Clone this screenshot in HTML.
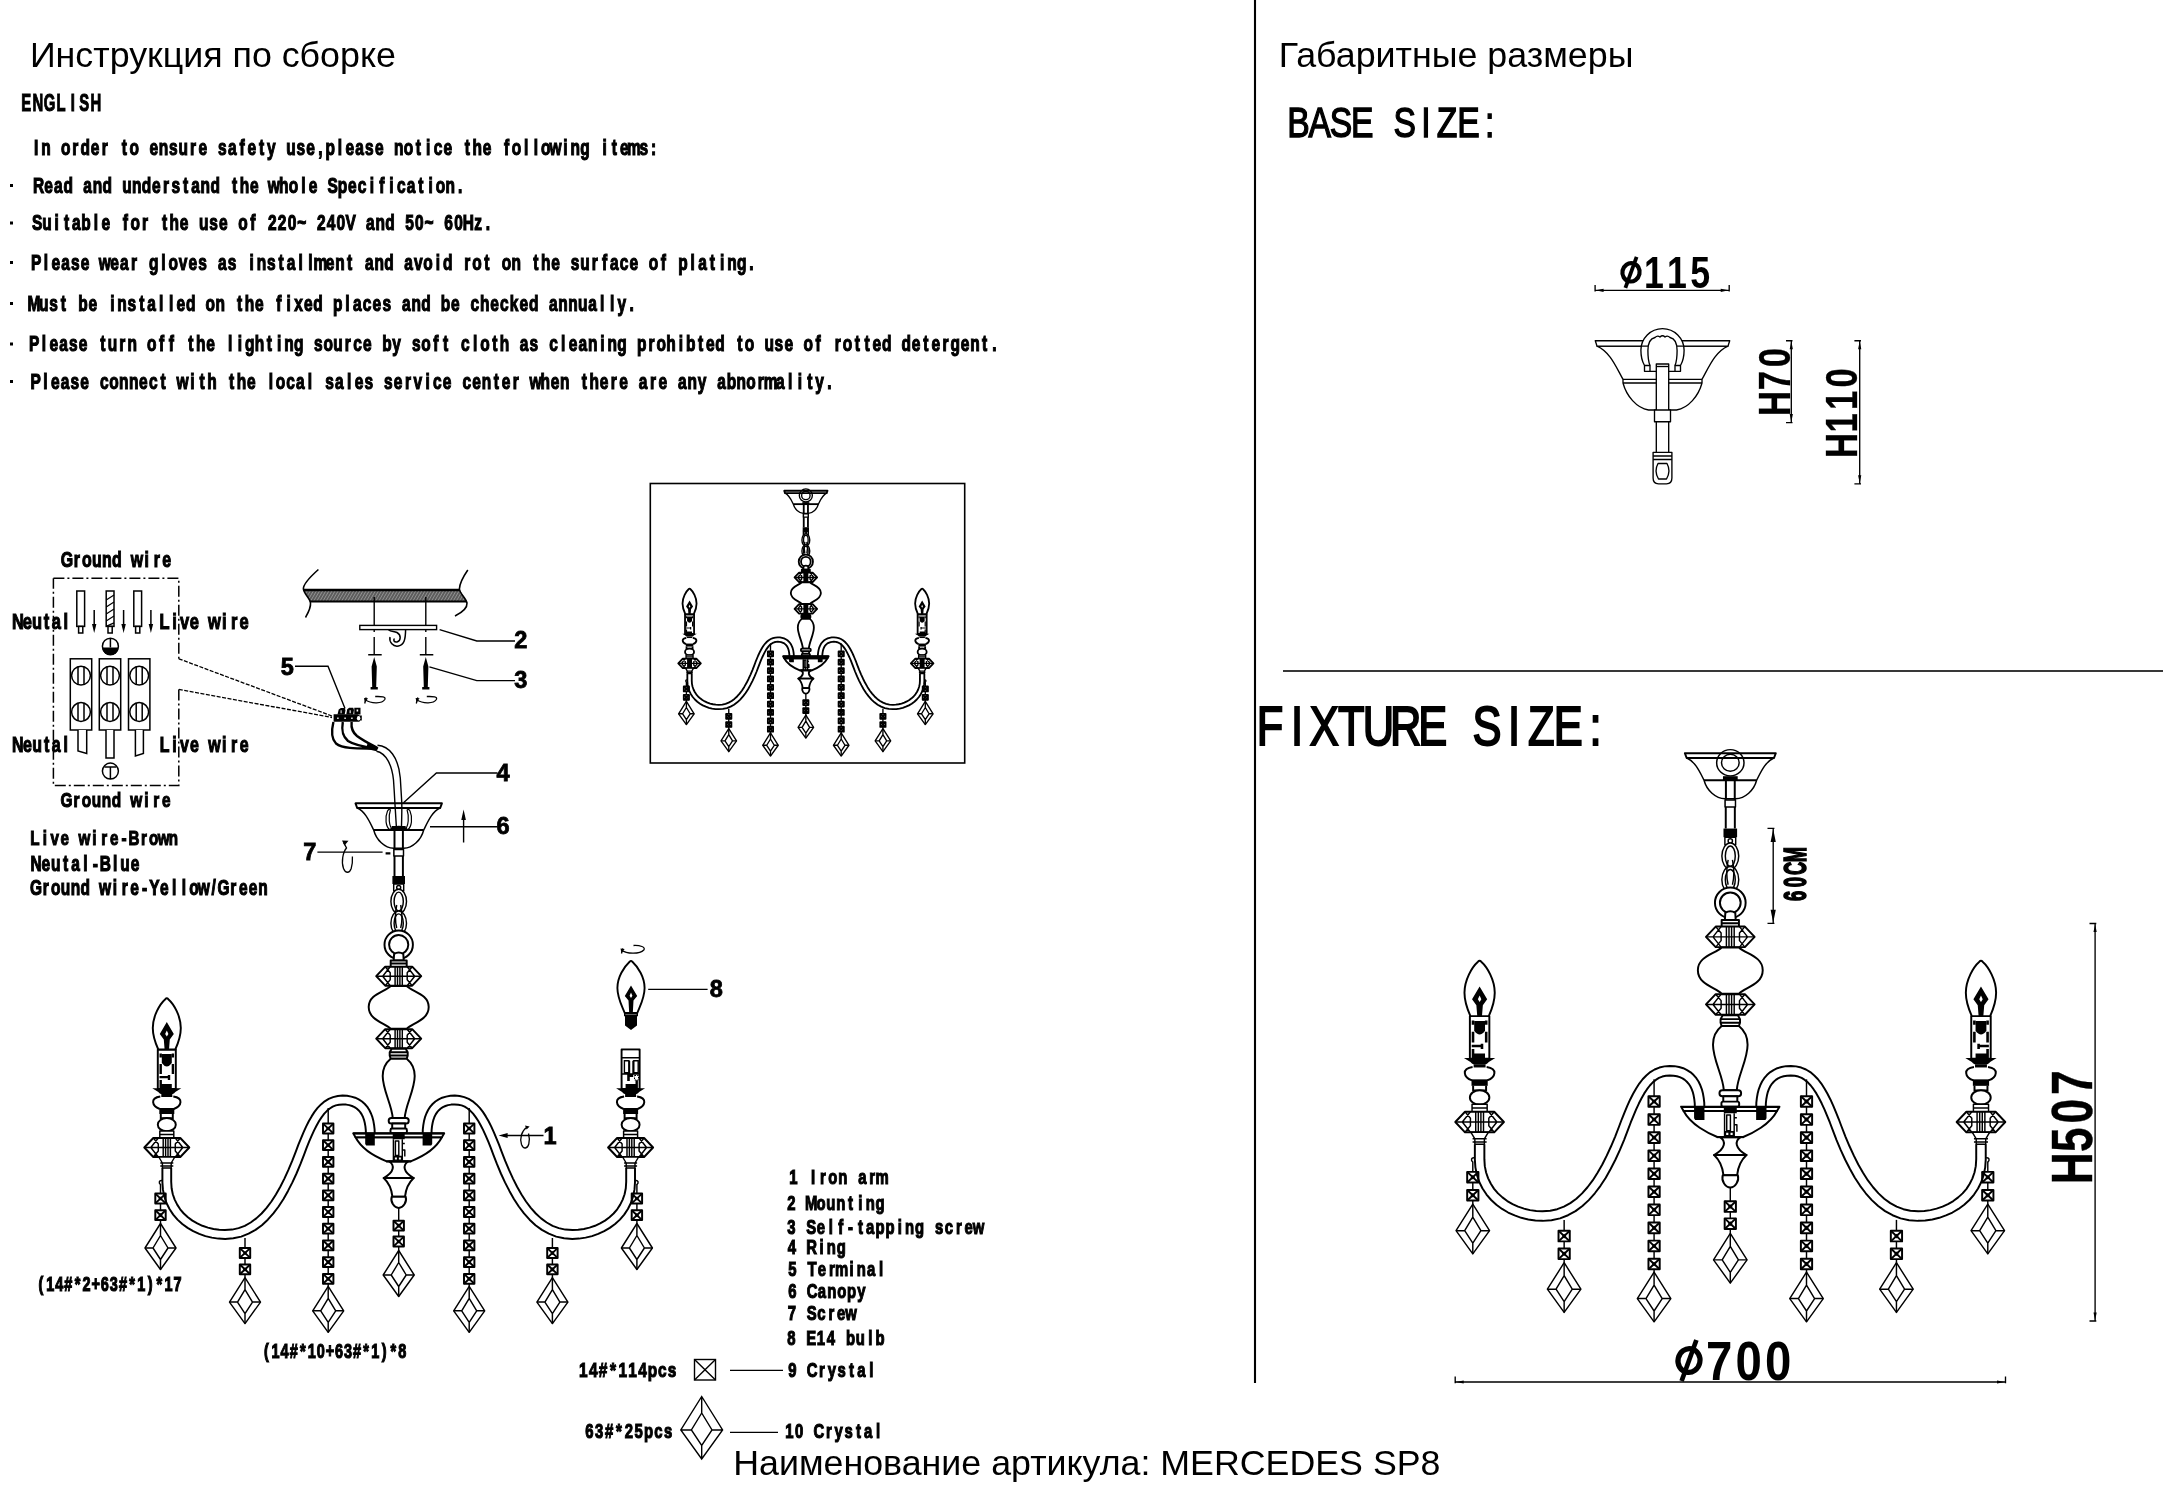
<!DOCTYPE html>
<html lang="ru"><head><meta charset="utf-8"><title>MERCEDES SP8</title>
<style>
html,body{margin:0;padding:0;background:#fff}
body{width:2174px;height:1500px;overflow:hidden;position:relative;font-family:"Liberation Sans",sans-serif}
svg{position:absolute;left:0;top:0;display:block;will-change:transform}
text{white-space:pre}
.s{font-family:"Liberation Sans",sans-serif;fill:#000}
.c{font-family:"Liberation Sans",sans-serif;font-weight:bold;fill:#000;text-anchor:middle}
.r{font-weight:normal}
.ln{fill:none;stroke:#000}
.w{fill:#fff;stroke:#000}
.k{fill:#000;stroke:none}
.b{stroke-width:calc(var(--w)*1.35)}
</style></head><body>
<svg width="2174" height="1500" viewBox="0 0 2174 1500">
<defs>
<g id="sq"><rect class="w b" x="-5.2" y="-4.9" width="10.4" height="9.8"/><path class="ln b" d="M-5.2,-4.9L5.2,4.9M5.2,-4.9L-5.2,4.9"/><rect class="k" x="-1.5" y="-1.5" width="3" height="3" transform="rotate(45)"/></g>
<g id="dia"><path class="w" d="M0,0L15.5,24.5L0,46L-15.5,24.5Z"/><path class="ln" d="M0,12L7.5,24.5L0,36L-7.5,24.5ZM0,0V12M0,36V46M-15.5,24.5H-7.5M15.5,24.5H7.5"/></g>
<g id="bead"><path class="w b" d="M-13.5,-9.5H13.5L22.5,0L13.5,9.5H-13.5L-22.5,0Z"/><path class="ln" d="M-22.5,0H22.5M-8.5,-9.5L-16,0L-8.5,9.5M8.5,-9.5L16,0L8.5,9.5M-13.5,-9.5L-8.5,-3.5V3.5L-13.5,9.5M13.5,-9.5L8.5,-3.5V3.5L13.5,9.5M-3.6,-9.5V9.5M-1.2,-9.5V9.5M1.2,-9.5V9.5M3.6,-9.5V9.5"/></g>
<g id="bulb"><path class="w b" d="M-1.5,999.2Q0,997.4 1.5,999.2C7,1004 14,1016 14,1028C14,1037 11,1044 8.5,1049.5H-8.5C-11,1044 -14,1037 -14,1028C-14,1016 -7,1004 -1.5,999.2Z"/><path class="k" d="M0,1022L7,1034L3,1039.5L2.2,1049.5H-2.2L-3,1039.5L-7,1034Z"/><path d="M0,1030.5L1.6,1034L0,1036.5L-1.6,1034Z" fill="#fff"/></g>
<g id="half"><path class="ln" d="M328.2,1108V1286.3"/><use href="#sq" x="328.2" y="1128.5"/><use href="#sq" x="328.2" y="1145.2"/><use href="#sq" x="328.2" y="1161.9"/><use href="#sq" x="328.2" y="1178.6"/><use href="#sq" x="328.2" y="1195.3"/><use href="#sq" x="328.2" y="1212"/><use href="#sq" x="328.2" y="1228.7"/><use href="#sq" x="328.2" y="1245.4"/><use href="#sq" x="328.2" y="1262.1"/><use href="#sq" x="328.2" y="1278.8"/><use href="#dia" x="328.2" y="1286.3"/><path class="ln" d="M245,1238V1277.6"/><use href="#sq" x="245" y="1253"/><use href="#sq" x="245" y="1269.4"/><use href="#dia" x="245" y="1277.6"/><path class="ln" d="M162,1180.5C159,1180 158.5,1183 160.5,1184.5"/><path class="ln" d="M160.5,1184V1223.5"/><use href="#sq" x="160.5" y="1198.5"/><use href="#sq" x="160.5" y="1215.2"/><use href="#dia" x="160.5" y="1223.5"/><path class="ln b" d="M162.4,1168 162.4,1175 162.4,1182.2 162.9,1189.4 164.3,1196.4 166.5,1203 169.5,1209 173.2,1214.6 177.5,1219.6 182.3,1224 187.6,1227.9 193.2,1231.2 199.2,1233.9 205.4,1236.1 211.8,1237.6 218.4,1238.6 225.1,1238.9 233.3,1238.3 241.2,1236.6 248.6,1233.7 255.5,1229.9 261.9,1225.2 267.8,1219.7 273.4,1213.4 278.6,1206.5 283.5,1199 288,1190.9 292.4,1182.4 296.5,1173.5 300.4,1164.2 304.1,1154.6 306.6,1147.9 309.1,1141.7 311.6,1135.8 314.1,1130.4 316.6,1125.5 319.1,1121 321.7,1117.1 324.3,1113.7 327,1110.8 329.8,1108.5 332.7,1106.7 335.8,1105.4 339.1,1104.7 342.8,1104.4 346.2,1104.6 349.3,1105.1 352,1106 354.5,1107.1 356.6,1108.5 358.5,1110.2 360.2,1112.1 361.7,1114.4 363,1117 364,1119.8 364.8,1123 365.4,1126.4 365.8,1130.1 365.9,1134.1"/><path class="ln b" d="M171.2,1168 171.2,1175 171.2,1181.8 171.6,1188.3 172.8,1194.2 174.7,1199.6 177.2,1204.6 180.2,1209.3 183.8,1213.5 187.9,1217.2 192.4,1220.6 197.3,1223.4 202.4,1225.8 207.9,1227.6 213.5,1229 219.2,1229.8 224.9,1230.1 232.1,1229.6 238.6,1228.1 244.8,1225.8 250.7,1222.5 256.3,1218.4 261.6,1213.5 266.6,1207.8 271.4,1201.5 275.9,1194.4 280.3,1186.8 284.4,1178.6 288.4,1169.9 292.2,1160.9 295.9,1151.4 298.4,1144.7 301,1138.3 303.5,1132.3 306.1,1126.6 308.8,1121.3 311.6,1116.4 314.5,1111.9 317.6,1107.9 321,1104.4 324.7,1101.3 328.7,1098.9 333.1,1097.1 337.8,1096 342.6,1095.6 347.1,1095.8 351.3,1096.6 355.2,1097.7 358.7,1099.4 362,1101.5 364.8,1104 367.3,1106.9 369.3,1110 371,1113.5 372.4,1117.2 373.4,1121.1 374.1,1125.2 374.6,1129.5 374.7,1133.9"/><rect class="w b" x="157.8" y="1049.5" width="18" height="39.5"/><path class="k" d="M161.8,1054h10v9q-5,7 -10,0z"/><path class="k" d="M159.5,1053.5h2.4v4h-2.4zM171.7,1053.5h2.4v4h-2.4zM159.5,1064h2.4v10h-2.4zM171.7,1064h2.4v10h-2.4zM159.5,1076h9v2.2h-9zM167.8,1075h2.4v5h-2.4zM159.5,1080h2.4v9h-2.4zM161.8,1084h10v5h-10z"/><path class="k" d="M152.3,1088.3L181.3,1088.3L175.3,1092Q174.3,1093.5 172.8,1094H160.8Q159.3,1093.5 158.3,1092Z"/><rect class="k" x="161.3" y="1094" width="11" height="3"/><path class="ln b" d="M160.3,1096.5C149.8,1098 151.8,1106 159.8,1109M173.3,1096.5C183.8,1098 181.8,1106 173.8,1109"/><rect class="k" x="159.3" y="1108" width="15" height="6"/><path class="ln b" d="M160.8,1114V1119M172.8,1114V1119M160.8,1118.3H172.8"/><ellipse class="w b" cx="166.8" cy="1124.7" rx="9" ry="6.6"/><path class="w" d="M159.8,1131H173.8V1138H159.8ZM159.8,1134.5H173.8"/><use href="#bead" x="166.8" y="1147.5"/><path class="w" d="M158.8,1157H174.8L171.2,1163V1168H162.4V1163ZM160.3,1163H173.3M160.3,1166H173.3"/></g>
<g id="canopy"><path class="w" d="M357.4,808C365.7,812 369.7,822 373.7,830C376.2,840 384.7,848 393.7,848.3H403.7C412.7,848 421.2,840 423.7,830C427.7,822 431.7,812 440,808Z"/><path class="k" d="M391.7,826h14v4.5h-14z"/><path class="w b" d="M355.5,803.3H441.9L440.2,808H357.2Z"/><path class="ln b" d="M373.7,830H423.7"/><path class="w b" d="M394.5,830V848.3M402.9,830V848.3"/></g>
<g id="chand"><use href="#half"/><use href="#half" transform="translate(797.4,0) scale(-1,1)"/><path class="w b" d="M394.5,847V876M402.9,847V876"/><rect class="w" x="393.9" y="849.5" width="9.6" height="6.5"/><rect class="k" x="392.4" y="876" width="12.6" height="8"/><rect class="w" x="393.7" y="884" width="10" height="7"/><circle class="ln" cx="398.7" cy="887.5" r="2"/><ellipse class="w" cx="398.7" cy="901.5" rx="7.8" ry="12.2"/><ellipse class="ln" cx="398.7" cy="901.5" rx="4.6" ry="9.4"/><ellipse class="w" cx="398.7" cy="923.3" rx="7.8" ry="12.2"/><ellipse class="ln" cx="398.7" cy="923.3" rx="4.6" ry="9.4"/><path class="ln" d="M396.7,905C394.7,915 394.7,920 396.7,928M400.7,905C402.7,915 402.7,920 400.7,928"/><circle class="w b" cx="398.7" cy="944.7" r="14.2"/><circle class="ln b" cx="398.7" cy="944.7" r="9.6"/><path class="w b" d="M393.7,960.5L394.1,954Q398.7,951 403.3,954L403.7,960.5Z"/><path class="w b" d="M390.7,960.5H406.7V967H390.7ZM390.7,963.6H406.7"/><use href="#bead" x="398.7" y="976.2"/><path class="w b" d="M390.7,986C384.7,992 368.7,994 368.7,1007C368.7,1020 384.7,1023 390.7,1028.7H406.7C412.7,1023 428.7,1020 428.7,1007C428.7,994 412.7,992 406.7,986Z"/><use href="#bead" x="398.7" y="1038.7"/><path class="w b" d="M391.7,1048.7H405.7L407.7,1052.3V1055.6L406.7,1058.7H390.7L389.7,1055.6V1052.3ZM389.7,1052.3H407.7M389.7,1055.6H407.7"/><path class="w b" d="M390.7,1058.7C384.2,1064 382.7,1070 382.7,1076C382.7,1090 392,1105 392.7,1118H404.7C405.4,1105 414.7,1090 414.7,1076C414.7,1070 413.2,1064 406.7,1058.7Z"/><rect class="w b" x="388.7" y="1118" width="20" height="5.6" rx="2.6"/><rect class="w b" x="392.2" y="1123.6" width="13" height="6"/><rect class="w b" x="390.5" y="1128.6" width="16.4" height="4.7" rx="1.5"/><path class="w b" d="M355.5,1137.3C362.2,1150 378.2,1158 386.7,1161.3H410.7C419.2,1158 435.2,1150 441.9,1137.3Z"/><path class="w b" d="M353.2,1133.3H444.2L441.9,1137.3H355.5Z"/><path class="ln b" d="M353.2,1133.6H444.2"/><path class="k" d="M365.2,1133.5h9.6v12h-8.6l-1,-1.5zM422.6,1133.5h9.6v10.5l-1,1.5h-8.6zM392.7,1133h12v6.3h-12z"/><path class="ln" d="M393.4,1139.3V1160.5M402.3,1139.3V1160.5M395.4,1141h3.4v14.5h-3.4zM402.3,1143.5h2.5M402.3,1150h2.5v6.5M393.4,1156.5H402.3"/><path class="k" d="M393.4,1156.5h8.9v4h-8.9z"/><path d="M394.9,1157.5h2v2h-2zM398.9,1157.5h2v2h-2z" fill="#fff"/><path class="w b" d="M389.2,1161.5C394.7,1165 394.7,1172 383.7,1178H413.7C402.7,1172 402.7,1165 408.2,1161.5Z"/><path class="ln b" d="M386.2,1161.5H411.2"/><path class="w b" d="M383.7,1178C390.2,1184 391.7,1190 392.4,1196.7H405C405.7,1190 407.2,1184 413.7,1178Z"/><path class="w b" d="M391.7,1196.7C390.2,1202 394.2,1208 398.7,1208C403.2,1208 407.2,1202 405.7,1196.7Z"/><path class="ln" d="M398.7,1208V1250.5"/><use href="#sq" x="398.7" y="1225.7"/><use href="#sq" x="398.7" y="1241.5"/><use href="#dia" x="398.7" y="1250.5"/></g>
</defs>
<path class="ln" stroke-width="2.1" d="M1255,0V1383"/>
<path class="ln" style="stroke:#383838" stroke-width="2" d="M1283,670.9H2163"/>
<text class="s" x="29.9" y="66.5" font-size="35.8" textLength="366" lengthAdjust="spacingAndGlyphs">Инструкция по сборке</text>
<text class="s" x="1278.8" y="66.5" font-size="35.8" textLength="354.6" lengthAdjust="spacingAndGlyphs">Габаритные размеры</text>
<text class="s" x="733.3" y="1475" font-size="35" textLength="707.2" lengthAdjust="spacingAndGlyphs">Наименование артикула: MERCEDES SP8</text>
<text class="c" transform="translate(20.5,111) scale(0.6,1)" font-size="24.71" x="9.7 29 48.3 67.7 87 106.3 125.7" stroke="#000" stroke-width="1.15">ENGLISH</text>
<text class="c" transform="translate(31.3,155) scale(0.73,1)" font-size="21.22" x="6.7 20.1 33.6 47 60.4 73.8 87.3 100.7 114.1 127.5 141 154.4 167.8 181.2 194.7 208.1 221.5 234.9 248.4 261.8 275.2 288.6 302.1 315.5 328.9 342.3 355.8 369.2 382.6 396 409.5 422.9 436.3 449.7 463.2 476.6 490 503.4 516.8 530.3 543.7 557.1 570.5 584 597.4 610.8 624.2 637.7 651.1 664.5 677.9 691.4 704.8 718.2 731.6 745.1 758.5 771.9 785.3 798.8 812.2 825.6 839 852.5" stroke="#000" stroke-width="1.15">In order to ensure safety use,please notice the following items:</text>
<text class="c" transform="translate(33.8,192.5) scale(0.73,1)" font-size="21.22" x="6.7 20.1 33.6 47 60.4 73.8 87.3 100.7 114.1 127.5 141 154.4 167.8 181.2 194.7 208.1 221.5 234.9 248.4 261.8 275.2 288.6 302.1 315.5 328.9 342.3 355.8 369.2 382.6 396 409.5 422.9 436.3 449.7 463.2 476.6 490 503.4 516.8 530.3 543.7 557.1 570.5 584" stroke="#000" stroke-width="1.15">Read and understand the whole Specification.</text>
<rect class="k" x="10" y="184" width="3" height="3"/>
<text class="c" transform="translate(32.2,230) scale(0.73,1)" font-size="21.22" x="6.7 20.1 33.6 47 60.4 73.8 87.3 100.7 114.1 127.5 141 154.4 167.8 181.2 194.7 208.1 221.5 234.9 248.4 261.8 275.2 288.6 302.1 315.5 328.9 342.3 355.8 369.2 382.6 396 409.5 422.9 436.3 449.7 463.2 476.6 490 503.4 516.8 530.3 543.7 557.1 570.5 584 597.4 610.8 624.2" stroke="#000" stroke-width="1.15">Suitable for the use of 220~ 240V and 50~ 60Hz.</text>
<rect class="k" x="10" y="221.5" width="3" height="3"/>
<text class="c" transform="translate(31.2,269.5) scale(0.73,1)" font-size="21.22" x="6.7 20.1 33.6 47 60.4 73.8 87.3 100.7 114.1 127.5 141 154.4 167.8 181.2 194.7 208.1 221.5 234.9 248.4 261.8 275.2 288.6 302.1 315.5 328.9 342.3 355.8 369.2 382.6 396 409.5 422.9 436.3 449.7 463.2 476.6 490 503.4 516.8 530.3 543.7 557.1 570.5 584 597.4 610.8 624.2 637.7 651.1 664.5 677.9 691.4 704.8 718.2 731.6 745.1 758.5 771.9 785.3 798.8 812.2 825.6 839 852.5 865.9 879.3 892.7 906.2 919.6 933 946.4 959.9 973.3 986.7" stroke="#000" stroke-width="1.15">Please wear gloves as installment and avoid rot on the surface of plating.</text>
<rect class="k" x="10" y="261" width="3" height="3"/>
<text class="c" transform="translate(29,310.5) scale(0.73,1)" font-size="21.22" x="6.7 20.1 33.6 47 60.4 73.8 87.3 100.7 114.1 127.5 141 154.4 167.8 181.2 194.7 208.1 221.5 234.9 248.4 261.8 275.2 288.6 302.1 315.5 328.9 342.3 355.8 369.2 382.6 396 409.5 422.9 436.3 449.7 463.2 476.6 490 503.4 516.8 530.3 543.7 557.1 570.5 584 597.4 610.8 624.2 637.7 651.1 664.5 677.9 691.4 704.8 718.2 731.6 745.1 758.5 771.9 785.3 798.8 812.2 825.6" stroke="#000" stroke-width="1.15">Must be installed on the fixed places and be checked annually.</text>
<rect class="k" x="10" y="302" width="3" height="3"/>
<text class="c" transform="translate(29.2,351) scale(0.73,1)" font-size="21.22" x="6.7 20.1 33.6 47 60.4 73.8 87.3 100.7 114.1 127.5 141 154.4 167.8 181.2 194.7 208.1 221.5 234.9 248.4 261.8 275.2 288.6 302.1 315.5 328.9 342.3 355.8 369.2 382.6 396 409.5 422.9 436.3 449.7 463.2 476.6 490 503.4 516.8 530.3 543.7 557.1 570.5 584 597.4 610.8 624.2 637.7 651.1 664.5 677.9 691.4 704.8 718.2 731.6 745.1 758.5 771.9 785.3 798.8 812.2 825.6 839 852.5 865.9 879.3 892.7 906.2 919.6 933 946.4 959.9 973.3 986.7 1000.1 1013.6 1027 1040.4 1053.8 1067.3 1080.7 1094.1 1107.5 1121 1134.4 1147.8 1161.2 1174.7 1188.1 1201.5 1214.9 1228.4 1241.8 1255.2 1268.6 1282.1 1295.5 1308.9 1322.3" stroke="#000" stroke-width="1.15">Please turn off the lighting source by soft cloth as cleaning prohibted to use of rotted detergent.</text>
<rect class="k" x="10" y="342.5" width="3" height="3"/>
<text class="c" transform="translate(30.7,388.5) scale(0.73,1)" font-size="21.22" x="6.7 20.1 33.6 47 60.4 73.8 87.3 100.7 114.1 127.5 141 154.4 167.8 181.2 194.7 208.1 221.5 234.9 248.4 261.8 275.2 288.6 302.1 315.5 328.9 342.3 355.8 369.2 382.6 396 409.5 422.9 436.3 449.7 463.2 476.6 490 503.4 516.8 530.3 543.7 557.1 570.5 584 597.4 610.8 624.2 637.7 651.1 664.5 677.9 691.4 704.8 718.2 731.6 745.1 758.5 771.9 785.3 798.8 812.2 825.6 839 852.5 865.9 879.3 892.7 906.2 919.6 933 946.4 959.9 973.3 986.7 1000.1 1013.6 1027 1040.4 1053.8 1067.3 1080.7 1094.1" stroke="#000" stroke-width="1.15">Please connect with the local sales service center when there are any abnormality.</text>
<rect class="k" x="10" y="380" width="3" height="3"/>
<g stroke-width="1.5"><path class="ln" stroke-dasharray="11,3,2,3" d="M53.4,578.2H178.8V658.8M178.8,689.4V785.4H53.4V578.2"/><path class="ln" stroke-width="1.3" stroke-dasharray="4,1.5" d="M178.8,658.8L332,716M178.8,689.4L332,717.5"/><rect class="w" x="76.8" y="591" width="7.8" height="35.4"/><rect class="w" x="78.6" y="626.4" width="4.2" height="6.6"/><rect class="w" x="106.2" y="591" width="7.8" height="35.4"/><rect class="w" x="108" y="626.4" width="4.2" height="6.6"/><rect class="w" x="133.8" y="591" width="7.8" height="35.4"/><rect class="w" x="135.6" y="626.4" width="4.2" height="6.6"/><path class="ln" stroke-width="1.2" d="M106.2,600l7.8,-5M106.2,607l7.8,-5M106.2,614l7.8,-5M106.2,621l7.8,-5M106.2,626.4l7.8,-3.5"/><path class="ln" d="M94.2,610V628"/><path class="k" d="M94.2,633l-2.2,-9h4.4z"/><path class="ln" d="M123.6,610V628"/><path class="k" d="M123.6,633l-2.2,-9h4.4z"/><path class="ln" d="M150.9,610V628"/><path class="k" d="M150.9,633l-2.2,-9h4.4z"/><circle class="w" cx="110.4" cy="646.2" r="8"/><path class="k" d="M102.4,647.5h16a8,8 0 0 1 -16,0z"/><path class="ln" d="M110.4,638.2V647.5"/><rect class="w" x="70.3" y="658.8" width="21.4" height="71.2"/><circle class="w" cx="81" cy="675.6" r="9.4"/><path class="ln" d="M78,666.7V684.5M84,666.7V684.5"/><circle class="w" cx="81" cy="712" r="9.4"/><path class="ln" d="M78,703.1V720.9M84,703.1V720.9"/><rect class="w" x="99.3" y="658.8" width="21.4" height="71.2"/><circle class="w" cx="110" cy="675.6" r="9.4"/><path class="ln" d="M107,666.7V684.5M113,666.7V684.5"/><circle class="w" cx="110" cy="712" r="9.4"/><path class="ln" d="M107,703.1V720.9M113,703.1V720.9"/><rect class="w" x="128.5" y="658.8" width="21.4" height="71.2"/><circle class="w" cx="139.2" cy="675.6" r="9.4"/><path class="ln" d="M136.2,666.7V684.5M142.2,666.7V684.5"/><circle class="w" cx="139.2" cy="712" r="9.4"/><path class="ln" d="M136.2,703.1V720.9M142.2,703.1V720.9"/><path class="w" d="M78,730V751L86.7,753.4V730M106,730V758H114V730M135.4,730V756L143.4,753.5V730"/><circle class="w" cx="110.4" cy="771.1" r="8"/><path class="ln" d="M104.4,767H116.4M110.4,767V779"/></g>
<text class="c" transform="translate(62,567) scale(0.73,1)" font-size="21.80" x="6.8 20.5 34.2 47.8 61.5 75.2 88.9 102.5 116.2 129.9 143.5" stroke="#000" stroke-width="1.15">Ground wire</text>
<text class="c" transform="translate(13,628.8) scale(0.73,1)" font-size="22.53" x="6.6 19.7 32.9 46 59.2 72.3" stroke="#000" stroke-width="1.15">Neutal</text>
<text class="c" transform="translate(159.6,628.8) scale(0.73,1)" font-size="22.53" x="6.8 20.4 34.1 47.7 61.3 75 88.6 102.2 115.9" stroke="#000" stroke-width="1.15">Live wire</text>
<text class="c" transform="translate(13,752.3) scale(0.73,1)" font-size="21.80" x="6.6 19.7 32.9 46 59.2 72.3" stroke="#000" stroke-width="1.15">Neutal</text>
<text class="c" transform="translate(159.6,752.3) scale(0.73,1)" font-size="21.80" x="6.8 20.4 34.1 47.7 61.3 75 88.6 102.2 115.9" stroke="#000" stroke-width="1.15">Live wire</text>
<text class="c" transform="translate(61.5,806.7) scale(0.73,1)" font-size="21.08" x="6.8 20.5 34.2 47.8 61.5 75.2 88.9 102.5 116.2 129.9 143.5" stroke="#000" stroke-width="1.15">Ground wire</text>
<text class="c" transform="translate(30,845.4) scale(0.73,1)" font-size="20.78" x="6.8 20.3 33.9 47.5 61 74.6 88.2 101.7 115.3 128.8 142.4 156 169.5 183.1 196.6" stroke="#000" stroke-width="1.15">Live wire-Brown</text>
<text class="c" transform="translate(31,870.6) scale(0.73,1)" font-size="21.22" x="6.8 20.3 33.9 47.5 61 74.6 88.2 101.7 115.3 128.8 142.4" stroke="#000" stroke-width="1.15">Neutal-Blue</text>
<text class="c" transform="translate(31,895.3) scale(0.73,1)" font-size="21.22" x="6.8 20.3 33.8 47.3 60.8 74.4 87.9 101.4 114.9 128.4 142 155.5 169 182.5 196 209.6 223.1 236.6 250.1 263.7 277.2 290.7 304.2 317.7" stroke="#000" stroke-width="1.15">Ground wire-Yellow/Green</text>
<g stroke-width="1.4"><clipPath id="slab"><path d="M303.6,589.4H459.6L466.6,601.4H310Z"/></clipPath><g clip-path="url(#slab)"><rect x="300" y="589.4" width="170" height="12" fill="#5c5c5c"/><path class="ln" style="stroke:#9a9a9a" stroke-width="0.9" d="M298,601.4l7,-12M301.1,601.4l7,-12M304.2,601.4l7,-12M307.3,601.4l7,-12M310.4,601.4l7,-12M313.5,601.4l7,-12M316.6,601.4l7,-12M319.7,601.4l7,-12M322.8,601.4l7,-12M325.9,601.4l7,-12M329,601.4l7,-12M332.1,601.4l7,-12M335.2,601.4l7,-12M338.3,601.4l7,-12M341.4,601.4l7,-12M344.5,601.4l7,-12M347.6,601.4l7,-12M350.7,601.4l7,-12M353.8,601.4l7,-12M356.9,601.4l7,-12M360,601.4l7,-12M363.1,601.4l7,-12M366.2,601.4l7,-12M369.3,601.4l7,-12M372.4,601.4l7,-12M375.5,601.4l7,-12M378.6,601.4l7,-12M381.7,601.4l7,-12M384.8,601.4l7,-12M387.9,601.4l7,-12M391,601.4l7,-12M394.1,601.4l7,-12M397.2,601.4l7,-12M400.3,601.4l7,-12M403.4,601.4l7,-12M406.5,601.4l7,-12M409.6,601.4l7,-12M412.7,601.4l7,-12M415.8,601.4l7,-12M418.9,601.4l7,-12M422,601.4l7,-12M425.1,601.4l7,-12M428.2,601.4l7,-12M431.3,601.4l7,-12M434.4,601.4l7,-12M437.5,601.4l7,-12M440.6,601.4l7,-12M443.7,601.4l7,-12M446.8,601.4l7,-12M449.9,601.4l7,-12M453,601.4l7,-12M456.1,601.4l7,-12M459.2,601.4l7,-12M462.3,601.4l7,-12M465.4,601.4l7,-12M468.5,601.4l7,-12"/></g><path class="ln" stroke-width="2.3" d="M303.6,590H459.8"/><path class="ln" stroke-width="2" d="M310,601.5H466.6"/><path class="ln" stroke-width="1.6" d="M318.4,569.5C310,577 303,584 303.4,589C304,594 310,598 310.5,603C311,608 308,613 305.5,617.5M467.8,570C463,577 459.5,584 459.4,589C460,594 466,598 467,603C467.5,609 461,613 455,616"/><path class="ln" d="M374.2,597V632M374.2,637V655M368.2,654.8H381.7"/><path class="k" d="M374.2,657L376.8,666.5L376.2,687H377.8V689.5H370.6V687H372.2L371.6,666.5Z"/><path class="ln" stroke-width="1.3" d="M364.7,703.5L366.2,697.5M364.7,699.5C372.2,704.5 382.2,703.5 384.8,699.5C386.2,696 380.2,696.5 375.2,696.5"/><path class="k" d="M364,698l4,0.3l-3,4.2z"/><path class="ln" d="M425.8,597V632M425.8,637V655M419.8,654.8H433.3"/><path class="k" d="M425.8,657L428.4,666.5L427.8,687H429.4V689.5H422.2V687H423.8L423.2,666.5Z"/><path class="ln" stroke-width="1.3" d="M416.3,703.5L417.8,697.5M416.3,699.5C423.8,704.5 433.8,703.5 436.4,699.5C437.8,696 431.8,696.5 426.8,696.5"/><path class="k" d="M415.6,698l4,0.3l-3,4.2z"/><rect class="w" x="359.8" y="625.4" width="76.8" height="4.2"/><path class="ln" stroke-width="1.5" d="M388.5,629.8C391,632 394,631 397,632.5C401.5,635 401,641 397,642C394,642.5 393,640 394.5,638.5M390,637C389,642 393,647 398.5,646C404,645 405.5,640 405.6,629.6"/><path class="ln" d="M439.6,629.6L476.8,641H515M429.4,666.8L476.8,680.6H515"/><path class="ln" d="M295,666.2H328L345,708.6"/><path class="k" d="M333.6,714.3h24l2,1.2h2.2v5h-1.5l-1,1.3H333.6z"/><path class="k" d="M337.5,714.5l1.2,-5l2.2,-1.6h3.8l0.8,2.4l-0.8,4.2zM346.2,714.5l1,-5.2l2,-1.6h4l0.8,2.2l-0.8,4.6zM354.3,707.8h6.2v6.7h-6.2z"/><ellipse cx="358.6" cy="718.2" rx="1.7" ry="2.3" fill="#fff"/><path d="M340.6,710.2h1v3h-1zM349.6,710.2h1.1v3h-1.1zM356.6,709.6h1.6v1.8h-1.6zM337.2,717.6h1.4v1.4h-1.4zM344.4,717.6h1.4v1.4h-1.4zM351.2,717.6h1.4v1.4h-1.4z" fill="#fff"/><path class="ln" stroke-width="2.4" d="M333.4,722C331.5,730 330.5,738 336,743.5C343,749 358,748.5 372,748.5M342.8,722C341.5,730 342,736 348,741C355,745.5 365,747 375,748.5M351.6,722C351,728 352,732 357,736C363,740.5 370,744 377.5,748"/><path class="k" d="M367.5,743.5L378.5,747.5L376.5,751.2L366,748.8Z"/><path class="ln" d="M377.5,745.3C389,746 398.5,757 400.3,778C401,790 401.5,797 401.8,803M376.5,751.2C386,753 392,765 393.5,780C394.2,790 394.6,797 394.9,803"/></g>
<g transform="translate(0,0) scale(1)" stroke-width="1.450" style="--w:1.450" stroke-linejoin="round"><use href="#chand"/><use href="#bulb" x="166.8"/></g><g transform="translate(0,0) scale(1,1)" stroke-width="1.450" style="--w:1.450" stroke-linejoin="round"><use href="#canopy"/></g>
<g stroke-width="1.4"><path class="ln" stroke-width="1.2" d="M387.5,811C384.5,818 386,827 389.5,829.5M390.5,809.5C388,817 389.2,826 392.3,829.5M410,811C413,818 411.5,827 408,829.5M407,809.5C409.5,817 408.3,826 405.2,829.5M387.5,811Q389,808.5 390.5,809.5M410,811Q408.5,808.5 407,809.5"/><path class="ln" d="M394.9,803C395.5,812 396,822 396.5,829M401.8,803C402,812 401.6,822 401.4,829"/><path class="k" d="M388.5,829.8Q398.7,821.5 409,829.8Z"/><path class="ln" d="M403.5,802.7L436.4,773H497.5M430,826.8H497.5M463.6,842.6V815M317.4,852.1H382.6"/><path class="k" d="M463.6,809.5l2.3,10.5h-4.6zM385.6,852.2h4.8v2.3h-4.8z"/><path class="ln" stroke-width="1.3" d="M343.7,842.6L346.5,848C343,852 341,862 343.5,868.5C345.5,873.5 349.5,873.5 351.2,868.5C352.6,864 352.6,860 352.4,856.5"/><path class="k" d="M342,840.5l6.5,0.3l-4,4.6z"/><path class="ln" d="M503,1135.5H543.5"/><path class="k" d="M498.6,1135.5l9,-2.4v4.8z"/><path class="ln" stroke-width="1.3" d="M526.5,1127.5C521.5,1131 519.5,1139 521.5,1144.5C523.5,1149.5 527.5,1149 528.8,1144C529.8,1140 529.2,1136 528.5,1133.5"/><path class="k" d="M525,1125.6l4.6,1l-3,3z"/><rect x="622.9" y="1050.7" width="15.4" height="29.5" fill="#fff"/><path class="ln" d="M622,1057.8H639.2M622,1074H639.2M624.4,1060.8h4.4v12h-4.4zM633.8,1060.8h4.4v12h-4.4zM629.5,1060.8V1074M633,1060.8V1074"/><path class="k" d="M627.2,1074h6v3h-3.4v4h-2.6z"/><path class="ln" stroke-width="1" stroke-dasharray="1.5,1.2" d="M634.5,1075.5h4v4.5h-4z"/><path class="w" stroke-width="1.9" d="M629.6,961.8Q631,960 632.4,961.8C638,967 644.6,977 644.6,988C644.6,998 640,1006 637.3,1013H624.7C622,1006 617.4,998 617.4,988C617.4,977 624,967 629.6,961.8Z"/><path class="k" d="M631,985.5L637.2,996L633.5,1000.5L632.8,1013H629.2L628.5,1000.5L624.8,996Z"/><path d="M631,992.5L632.4,995.8L631,998L629.6,995.8Z" fill="#fff"/><path class="k" d="M625,1014.5H637V1025.5L631,1030L625,1025.5Z"/><path class="ln" d="M624.7,1013H637.3V1015.5H624.7Z"/><path class="ln" stroke-width="1.3" d="M621.5,953.5L622.8,948.5M621.5,950C627,954.5 640,954 643.8,950C646,947 640,945.2 633.5,945.5"/><path class="k" d="M620.5,948.5l4.2,0.4l-3.3,4.1z"/><path class="ln" d="M648.2,989.4H707.6"/></g>
<text class="c" transform="translate(515,648.2) scale(1.0,1)" font-size="23.55" x="5.8" stroke="#000" stroke-width="0.8">2</text>
<text class="c" transform="translate(515,688.4) scale(1.0,1)" font-size="23.55" x="5.8" stroke="#000" stroke-width="0.8">3</text>
<text class="c" transform="translate(281.5,674.6) scale(1.0,1)" font-size="23.55" x="5.8" stroke="#000" stroke-width="0.8">5</text>
<text class="c" transform="translate(497.2,781.2) scale(1.0,1)" font-size="23.55" x="5.8" stroke="#000" stroke-width="0.8">4</text>
<text class="c" transform="translate(497.2,833.7) scale(1.0,1)" font-size="23.55" x="5.8" stroke="#000" stroke-width="0.8">6</text>
<text class="c" transform="translate(304,860.3) scale(1.0,1)" font-size="23.55" x="5.8" stroke="#000" stroke-width="0.8">7</text>
<text class="c" transform="translate(710.4,997.2) scale(1.0,1)" font-size="23.55" x="5.8" stroke="#000" stroke-width="0.8">8</text>
<text class="c" transform="translate(544.2,1144.2) scale(1.0,1)" font-size="23.55" x="5.8" stroke="#000" stroke-width="0.8">1</text>
<text class="c" transform="translate(36.5,1291.2) scale(0.73,1)" font-size="19.77" x="6.2 18.7 31.2 43.6 56.1 68.6 81 93.5 106 118.4 130.9 143.4 155.8 168.3 180.8 193.2" stroke="#000" stroke-width="1.15">(14#*2+63#*1)*17</text>
<text class="c" transform="translate(262,1357.5) scale(0.73,1)" font-size="19.77" x="6.2 18.6 31 43.4 55.8 68.2 80.6 93 105.4 117.8 130.2 142.6 155 167.4 179.8 192.2" stroke="#000" stroke-width="1.15">(14#*10+63#*1)*8</text>
<text class="c" transform="translate(788.5,1184) scale(0.73,1)" font-size="20.35" x="6.7 20.2 33.7 47.2 60.7 74.2 87.7 101.2 114.7 128.2" stroke="#000" stroke-width="1.15">1 Iron arm</text>
<text class="c" transform="translate(786.5,1210) scale(0.73,1)" font-size="20.35" x="6.7 20.2 33.7 47.2 60.7 74.2 87.7 101.2 114.7 128.2" stroke="#000" stroke-width="1.15">2 Mounting</text>
<text class="c" transform="translate(786.5,1234) scale(0.73,1)" font-size="20.35" x="6.7 20.2 33.7 47.2 60.7 74.2 87.7 101.2 114.7 128.2 141.7 155.2 168.7 182.2 195.7 209.1 222.6 236.1 249.6 263.1" stroke="#000" stroke-width="1.15">3 Self-tapping screw</text>
<text class="c" transform="translate(787,1254) scale(0.73,1)" font-size="20.35" x="6.7 20.2 33.7 47.2 60.7 74.2" stroke="#000" stroke-width="1.15">4 Ring</text>
<text class="c" transform="translate(787.5,1276) scale(0.73,1)" font-size="20.35" x="6.7 20.2 33.7 47.2 60.7 74.2 87.7 101.2 114.7 128.2" stroke="#000" stroke-width="1.15">5 Terminal</text>
<text class="c" transform="translate(787.5,1298) scale(0.73,1)" font-size="20.35" x="6.7 20.2 33.7 47.2 60.7 74.2 87.7 101.2" stroke="#000" stroke-width="1.15">6 Canopy</text>
<text class="c" transform="translate(787,1320) scale(0.73,1)" font-size="20.35" x="6.7 20.2 33.7 47.2 60.7 74.2 87.7" stroke="#000" stroke-width="1.15">7 Screw</text>
<text class="c" transform="translate(786.5,1345) scale(0.73,1)" font-size="20.35" x="6.7 20.2 33.7 47.2 60.7 74.2 87.7 101.2 114.7 128.2" stroke="#000" stroke-width="1.15">8 E14 bulb</text>
<text class="c" transform="translate(787.5,1377) scale(0.73,1)" font-size="20.35" x="6.7 20.2 33.7 47.2 60.7 74.2 87.7 101.2 114.7" stroke="#000" stroke-width="1.15">9 Crystal</text>
<text class="c" transform="translate(784.5,1438) scale(0.73,1)" font-size="20.35" x="6.7 20.2 33.7 47.2 60.7 74.2 87.7 101.2 114.7 128.2" stroke="#000" stroke-width="1.15">10 Crystal</text>
<text class="c" transform="translate(578.5,1377) scale(0.73,1)" font-size="21.08" x="6.7 20.2 33.7 47.2 60.7 74.2 87.7 101.2 114.7 128.2" stroke="#000" stroke-width="1.15">14#*114pcs</text>
<text class="c" transform="translate(584.5,1438) scale(0.73,1)" font-size="20.35" x="6.7 20.2 33.7 47.2 60.7 74.2 87.7 101.2 114.7" stroke="#000" stroke-width="1.15">63#*25pcs</text>
<g stroke-width="1.4"><rect class="w" x="694.5" y="1359.5" width="21" height="20.5"/><path class="ln" d="M694.5,1359.5L715.5,1380M715.5,1359.5L694.5,1380M730,1370.4H783M730,1432.4H778"/><path class="ln" d="M701.7,1396.5L722.6,1430L701.7,1459L680.8,1430ZM701.7,1413L712,1430L701.7,1445.5L691.4,1430ZM701.7,1396.5V1413M701.7,1445.5V1459M680.8,1430H691.4M722.6,1430H712"/></g>
<rect class="ln" stroke-width="1.6" x="650.3" y="483.5" width="314.4" height="279.5"/>
<g transform="translate(605.9,87.9) scale(0.5015)" stroke-width="2.692" style="--w:2.692" stroke-linejoin="round"><use href="#chand"/><use href="#bulb" x="166.8"/><use href="#bulb" x="630.6"/></g><g transform="translate(605.9,87.9) scale(0.5015,0.5015)" stroke-width="2.692" style="--w:2.692" stroke-linejoin="round"><use href="#canopy"/><circle class="ln" cx="398.7" cy="812.7" r="13"/><circle class="ln" cx="398.7" cy="812.7" r="8.4"/></g>
<g transform="translate(1299.3,-118.4) scale(1.081)" stroke-width="1.341" style="--w:1.341" stroke-linejoin="round"><use href="#chand"/><use href="#bulb" x="166.8"/><use href="#bulb" x="630.6"/></g><g transform="translate(1310.9,-58.9) scale(1.052,1.011)" stroke-width="1.406" style="--w:1.406" stroke-linejoin="round"><use href="#canopy"/><circle class="ln" cx="398.7" cy="812.7" r="13"/><circle class="ln" cx="398.7" cy="812.7" r="8.4"/></g>
<text class="c r" transform="translate(1287.9,136.5) scale(0.78,1)" font-size="43.17" x="13.6 40.8 68 95.3 122.5 149.7 176.9 204.1 231.4 258.6" stroke="#000" stroke-width="1.4">BASE SIZE:</text>
<text class="c r" transform="translate(1256.4,744.5) scale(0.78,1)" font-size="55.67" x="17.4 52.2 86.9 121.7 156.5 191.3 226 260.8 295.6 330.4 365.1 399.9 434.7" stroke="#000" stroke-width="2.0">FIXTURE SIZE:</text>
<ellipse class="ln" cx="1631" cy="272.3" rx="8.6" ry="9.2" stroke-width="4.2" transform="rotate(12 1631 272.3)"/><path class="ln" stroke-width="3.78" d="M1636.6,256.8L1625.4,287.8"/>
<text class="c" transform="translate(1642.3,287.6) scale(0.82,1)" font-size="43.60" x="14.1 42.4 70.7">115</text>
<g stroke-width="1.35" stroke-linejoin="round"><path class="ln" d="M1595.1,290.3H1729.2M1595.1,285V291.5M1729.2,285V291.5"/><path class="k" d="M1595.6,290.3l8,-1.6v3.2zM1728.7,290.3l-8,-1.6v3.2z"/><path class="w" d="M1597,346.1C1610.5,352 1616.5,368 1623,379.4V383C1626.5,396 1636.5,408 1648.5,410H1676.5C1688.5,408 1698.5,396 1702,383V379.4C1708.5,368 1714.5,352 1728,346.1Z"/><path class="ln" d="M1623,379.4H1702M1623,383H1702"/><path class="w" d="M1595.3,340.7H1729.7L1728,346.1H1597Z"/><path class="w" d="M1644.5,371.3V365.5C1642.5,362 1640.9,356 1640.9,350.2A21.6,21.6 0 0 1 1684.1,350.2C1684.1,356 1682.5,362 1680.5,365.5V371.3Z"/><path class="w" d="M1650,365.5C1648.5,362 1647.9,356 1647.9,350.5C1647.9,343 1650.5,338.5 1655,337.5Q1657.5,335 1660,337Q1662.5,334.5 1665,337Q1667.5,335 1670,337.5C1674.5,338.5 1677.1,343 1677.1,350.5C1677.1,356 1676.5,362 1675,365.5"/><path class="ln" d="M1641.3,346.1H1648.3M1676.7,346.1H1683.7"/><path class="ln" d="M1644.5,365.5H1650V371.3M1680.5,365.5H1675V371.3"/><path class="w" d="M1656.3,364H1668.7V456H1656.3Z"/><path class="ln" d="M1656.3,366.5H1668.7"/><path class="w" d="M1654.5,410H1670.5V421.7H1654.5Z"/><path class="w" d="M1653.1,452.3H1671.9V478Q1671.9,483.8 1666.5,483.8H1658.5Q1653.1,483.8 1653.1,478Z"/><path class="ln" d="M1653.1,456H1671.9M1653.1,459.5H1671.9M1658,463.5H1667C1669.5,468 1669.5,474 1666.5,479H1658.5C1655.5,474 1655.5,468 1658,463.5Z"/><path class="ln" d="M1791.3,340.7V422.6M1786,340.7H1792.5M1786,422.6H1792.5"/><path class="k" d="M1791.3,341.2l-1.6,8h3.2zM1791.3,422.1l-1.6,-8h3.2z"/><path class="ln" d="M1859.7,340.7V483.8M1854.4,340.7H1861M1854.4,483.8H1861"/><path class="k" d="M1859.7,341.2l-1.6,8h3.2zM1859.7,483.3l-1.6,-8h3.2z"/></g>
<text class="c" transform="translate(1789.5,414.9) rotate(-90) scale(0.78,1)" font-size="44.48" x="14.7 44 73.4" stroke="#000" stroke-width="0.3">H70</text>
<text class="c" transform="translate(1857,456.6) rotate(-90) scale(0.78,1)" font-size="44.48" x="14.4 43.3 72.1 101" stroke="#000" stroke-width="0.3">H110</text>
<g stroke-width="1.35"><path class="ln" d="M1773.2,828.4V923.3M1767.5,828.4H1774.4M1767.5,923.3H1774.4"/><path class="k" d="M1773.2,828.9l-2.6,13h5.2zM1773.2,922.8l-2.6,-13h5.2z"/><path class="ln" d="M2095.1,923.5V1321M2089.5,923.5H2096.3M2089.5,1321H2096.3"/><path class="k" d="M2095.1,924l-1.6,8h3.2zM2095.1,1320.5l-1.6,-8h3.2z"/><path class="ln" d="M1455.2,1382H2005.5M1455.2,1376.5V1383.2M2005.5,1376.5V1383.2"/><path class="k" d="M1455.7,1382l8,-1.6v3.2zM2005,1382l-8,-1.6v3.2z"/></g>
<text class="c" transform="translate(1805.5,902.8) rotate(-90) scale(0.6,1)" font-size="30.52" x="11.5 34.4 57.3 80.2" stroke="#000" stroke-width="1.6">60CM</text>
<text class="c" transform="translate(2092.1,1182.5) rotate(-90) scale(0.78,1)" font-size="56.69" x="18.3 54.8 91.3 127.9" stroke="#000" stroke-width="0.4">H507</text>
<ellipse class="ln" cx="1689" cy="1360.5" rx="11" ry="12" stroke-width="5.2" transform="rotate(12 1689 1360.5)"/><path class="ln" stroke-width="4.68" d="M1696.4,1340L1681.6,1381"/>
<text class="c" transform="translate(1704.5,1379.6) scale(0.84,1)" font-size="56.40" x="17.6 52.7 87.8">700</text>
</svg>
</body></html>
